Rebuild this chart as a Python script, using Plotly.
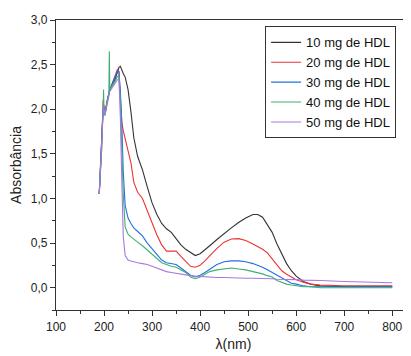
import plotly.graph_objects as go

# wavelengths (nm)
wl = [190, 195, 198, 200, 202, 206, 212, 218, 224, 228, 231, 234, 237, 240, 244, 250, 256, 262,
      270, 280, 290, 300, 310, 320, 330, 340, 350, 360, 370, 380, 390, 400, 410, 420, 435, 450,
      465, 480, 495, 510, 520, 530, 540, 550, 560, 570, 580, 590, 600, 615, 630, 650, 700, 750, 800]

abs_10 = [1.05, 1.55, 2.00, 2.02, 1.95, 2.08, 2.22, 2.28, 2.35, 2.42, 2.47, 2.48, 2.43, 2.40, 2.36,
          2.22, 1.97, 1.68, 1.47, 1.32, 1.13, 0.95, 0.82, 0.72, 0.66, 0.62, 0.55, 0.48, 0.43, 0.39,
          0.36, 0.38, 0.42, 0.47, 0.54, 0.61, 0.67, 0.73, 0.78, 0.82, 0.82, 0.79, 0.71, 0.62, 0.49,
          0.37, 0.27, 0.19, 0.13, 0.07, 0.04, 0.02, 0.01, 0.01, 0.01]

abs_20 = [1.05, 1.55, 2.10, 2.00, 1.95, 2.08, 2.22, 2.30, 2.38, 2.45, 2.42, 2.10, 1.85, 1.76, 1.67,
          1.55, 1.40, 1.18, 1.07, 1.00, 0.86, 0.72, 0.59, 0.48, 0.41, 0.41, 0.41, 0.35, 0.29, 0.24,
          0.23, 0.25, 0.30, 0.36, 0.44, 0.51, 0.545, 0.55, 0.53, 0.49, 0.46, 0.43, 0.39, 0.32, 0.25,
          0.19, 0.15, 0.12, 0.09, 0.06, 0.04, 0.03, 0.02, 0.02, 0.02]

abs_30 = [1.05, 1.55, 2.00, 2.02, 1.95, 2.08, 2.22, 2.30, 2.37, 2.43, 2.42, 2.20, 1.85, 1.30, 0.92,
          0.78, 0.72, 0.67, 0.63, 0.58, 0.50, 0.44, 0.37, 0.31, 0.28, 0.27, 0.26, 0.22, 0.18, 0.14,
          0.12, 0.14, 0.17, 0.21, 0.26, 0.29, 0.30, 0.30, 0.29, 0.27, 0.25, 0.23, 0.20, 0.17, 0.14,
          0.11, 0.08, 0.05, 0.04, 0.02, 0.01, 0.01, 0.01, 0.01, 0.01]

wl_40 = [190, 195, 198, 199, 200, 202, 206, 210, 211, 212, 218, 224, 228, 231, 234, 237, 240, 244,
         250, 256, 262, 270, 280, 290, 300, 310, 320, 330, 340, 350, 360, 370, 380, 390, 400, 410,
         420, 435, 450, 465, 480, 495, 510, 520, 530, 540, 550, 560, 570, 580, 590, 600, 615, 630,
         650, 700, 750, 800]
abs_40 = [1.05, 1.55, 1.95, 2.22, 1.95, 1.93, 2.05, 2.15, 2.65, 2.22, 2.27, 2.32, 2.37, 2.37, 2.10,
          1.60, 1.05, 0.68, 0.60, 0.57, 0.54, 0.51, 0.47, 0.42, 0.37, 0.32, 0.28, 0.26, 0.24, 0.23,
          0.20, 0.17, 0.12, 0.10, 0.12, 0.15, 0.18, 0.20, 0.21, 0.22, 0.21, 0.20, 0.18, 0.17, 0.155,
          0.135, 0.12, 0.08, 0.06, 0.04, 0.03, 0.02, 0.01, 0.01, 0.0, 0.0, 0.0, 0.0]

abs_50 = [1.05, 1.55, 2.02, 2.00, 1.93, 2.07, 2.20, 2.25, 2.30, 2.33, 2.34, 1.90, 1.20, 0.58, 0.36,
          0.31, 0.30, 0.295, 0.28, 0.27, 0.26, 0.24, 0.22, 0.20, 0.18, 0.17, 0.16, 0.15, 0.14, 0.135,
          0.13, 0.125, 0.12, 0.12, 0.115, 0.115, 0.11, 0.11, 0.105, 0.105, 0.105, 0.10, 0.10, 0.10,
          0.095, 0.095, 0.09, 0.09, 0.09, 0.085, 0.085, 0.08, 0.07, 0.06, 0.055]

names = ["10 mg de HDL", "20 mg de HDL", "30 mg de HDL", "40 mg de HDL", "50 mg de HDL"]
colors = ["#333333", "#ee3333", "#2070e0", "#40b070", "#a878e0"]
xs = [wl, wl, wl, wl_40, wl]
ys = [abs_10, abs_20, abs_30, abs_40, abs_50]

x_ticks = [100, 200, 300, 400, 500, 600, 700, 800]
y_ticks = [0.0, 0.5, 1.0, 1.5, 2.0, 2.5, 3.0]

fig = go.Figure()
for x, y, n, c in zip(xs, ys, names, colors):
    fig.add_trace(go.Scatter(x=x, y=y, mode="lines", name=n,
                             line=dict(color=c, width=1.1)))

font = "Liberation Sans, Arial, sans-serif"
# the page body adds an 8px offset, so the figure is 8px smaller than the window
fig.update_layout(
    width=403, height=348,
    margin=dict(l=48, r=0, t=12, b=45.5, autoexpand=False),
    paper_bgcolor="white", plot_bgcolor="white",
    separators=",.",
    font=dict(family=font, size=12, color="#222"),
    showlegend=True,
    legend=dict(x=0.589, y=0.978, xanchor="left", yanchor="top",
                bordercolor="#333", borderwidth=1, bgcolor="white",
                font=dict(size=13, family=font, color="#111"),
                tracegroupgap=0, itemwidth=30),
    xaxis=dict(range=[100, 839], tickvals=x_ticks, ticks="outside", ticklen=5,
               tickwidth=1, tickcolor="#333", showline=True, linecolor="#333",
               linewidth=1.3, mirror=True, showgrid=False, zeroline=False, automargin=False,
               minor=dict(dtick=50, ticks="outside", ticklen=3, tickcolor="#333", showgrid=False),
               title=dict(text="λ(nm)", font=dict(size=14, family=font), standoff=6),
               tickfont=dict(size=12, family=font)),
    yaxis=dict(range=[-0.25, 3.0], tickvals=y_ticks, tickformat=".1f", ticks="outside",
               ticklen=5, tickwidth=1, tickcolor="#333", showline=True, linecolor="#333",
               linewidth=1.3, showgrid=False, zeroline=False, automargin=False,
               minor=dict(dtick=0.25, ticks="outside", ticklen=3, tickcolor="#333", showgrid=False),
               title=dict(text="Absorbância", font=dict(size=14, family=font), standoff=8),
               tickfont=dict(size=12, family=font)),
)

fig.write_html("out.html")
